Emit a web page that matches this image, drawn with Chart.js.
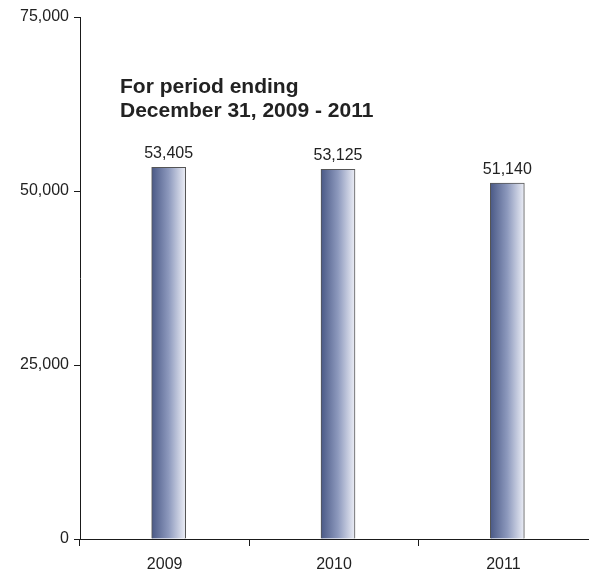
<!DOCTYPE html>
<html>
<head>
<meta charset="utf-8">
<script src="https://cdn.jsdelivr.net/npm/chart.js@4"></script>
<style>
  html, body { margin: 0; padding: 0; background: #fff; }
  #wrap { width: 594px; height: 574px; }
</style>
</head>
<body>
<div id="wrap"><canvas id="c" width="594" height="574"></canvas></div>
<script>
const categories = ['2009', '2010', '2011'];
const values = [53405, 53125, 51140];
const yTicks = [0, 25000, 50000, 75000];
const titleLines = ['For period ending', 'December 31, 2009 - 2011'];

const fmt = v => v.toLocaleString('en-US');
const FONT = '"Liberation Sans", Arial, sans-serif';
const BAR_SHIFT = 4;
const BAR_W = 34;

function barGradient(context) {
  const chart = context.chart;
  const xs = chart.scales && chart.scales.x;
  if (!chart.chartArea || !xs) return '#7f8bb0';
  const cx = xs.getPixelForValue(context.dataIndex);
  if (!isFinite(cx)) return '#7f8bb0';
  const x0 = cx - BAR_W / 2, x1 = cx + BAR_W / 2;
  const g = chart.ctx.createLinearGradient(x0, 0, x1, 0);
  g.addColorStop(0, '#4a5986');
  g.addColorStop(0.5, '#8d99bd');
  g.addColorStop(1, '#eceef6');
  return g;
}

const shiftPlugin = {
  id: 'shift',
  beforeDatasetsDraw(chart) { chart.ctx.save(); chart.ctx.translate(BAR_SHIFT, 0); },
  afterDatasetsDraw(chart) { chart.ctx.restore(); }
};

const labelPlugin = {
  id: 'labels',
  afterDatasetsDraw(chart) {
    const ctx = chart.ctx;
    const meta = chart.getDatasetMeta(0);
    ctx.save();
    ctx.font = '16px ' + FONT;
    ctx.fillStyle = '#222';
    ctx.textAlign = 'center';
    ctx.textBaseline = 'alphabetic';
    meta.data.forEach((bar, i) => {
      ctx.fillText(fmt(values[i]), bar.x + BAR_SHIFT, bar.y - 9);
    });
    ctx.font = 'bold 21px ' + FONT;
    ctx.textAlign = 'left';
    ctx.fillStyle = '#222';
    const left = chart.chartArea.left + 40;
    titleLines.forEach((t, i) => ctx.fillText(t, left, chart.chartArea.top + 76 + i * 24));
    ctx.restore();
  }
};

new Chart(document.getElementById('c'), {
  type: 'bar',
  data: {
    labels: categories,
    datasets: [{
      data: values,
      backgroundColor: barGradient,
      borderColor: '#555',
      borderWidth: 1,
      barThickness: BAR_W
    }]
  },
  options: {
    responsive: false,
    animation: false,
    layout: { padding: { top: 17, right: 6, left: 0, bottom: 0 } },
    plugins: { legend: { display: false }, tooltip: { enabled: false } },
    scales: {
      x: {
        grid: {
          drawOnChartArea: false, drawTicks: true, tickLength: 7, offset: true,
          color: c => (c.tick ? '#1a1a1a' : 'rgba(0,0,0,0)')
        },
        border: { display: true, color: '#1a1a1a', width: 1 },
        ticks: { color: '#222', font: { family: FONT, size: 16 }, padding: 9 },
        afterFit(s) { s.height = 35; }
      },
      y: {
        min: 0, max: 75000,
        afterBuildTicks(s) { s.ticks = yTicks.map(v => ({ value: v })); },
        grid: { drawOnChartArea: false, drawTicks: true, tickLength: 6, color: '#1a1a1a' },
        border: { display: true, color: '#1a1a1a', width: 1 },
        ticks: { color: '#222', font: { family: FONT, size: 16 }, padding: 5, callback: v => fmt(v) },
        afterFit(s) { s.width = 80; }
      }
    }
  },
  plugins: [shiftPlugin, labelPlugin]
});
</script>
</body>
</html>
